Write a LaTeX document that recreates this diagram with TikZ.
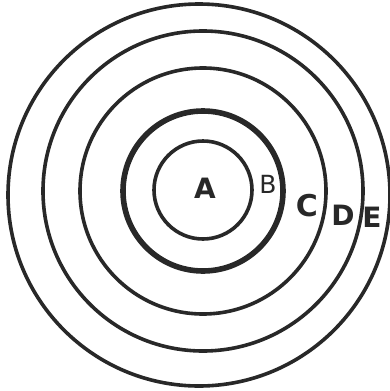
\documentclass[tikz,border=0pt]{standalone}
\usepackage{fontspec}
\setmainfont{DejaVu Sans}
\definecolor{ink}{RGB}{40,40,40}
\tikzset{
  ring/.style={draw=ink, line width=3.6pt},
  heavyring/.style={draw=ink, line width=5.6pt},
  lettre/.style={text=ink, font=\fontsize{28}{28}\selectfont\bfseries, inner sep=0pt}
}
\begin{document}
\begin{tikzpicture}[x=1pt,y=-1pt]

\useasboundingbox (0,0) rectangle (390,391);

% Cercles
\draw[ring] (203,190) circle (49);
\draw[heavyring] (203,191) circle (80);
\draw[ring] (203,191) circle (123);
\draw[ring] (203,191) circle (160);
\draw[ring] (199,195) circle (191);

% Lettres
\node[lettre] (A) at (205,188) {A};
\node[lettre, font=\fontsize{25}{25}\selectfont] (B) at (268,184) {B};
\node[lettre, font=\fontsize{30}{30}\selectfont\bfseries] (C) at (307,206) {C};
\node[lettre] (D) at (343,215) {D};
\node[lettre] (E) at (372,217) {E};

\end{tikzpicture}
\end{document}
